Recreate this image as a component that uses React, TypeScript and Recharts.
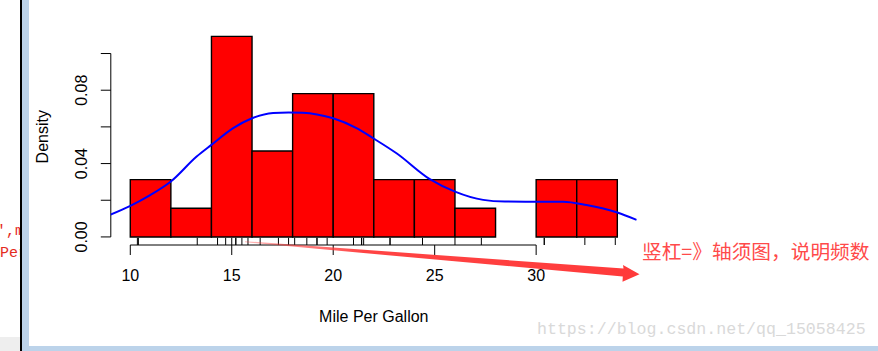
import React from 'react';
import { ComposedChart, XAxis, YAxis, Line, ReferenceArea, ReferenceLine } from 'recharts';

// Histogram bins (Mile Per Gallon) and their densities
const binStarts = [10, 12, 14, 16, 18, 20, 22, 24, 26, 28, 30, 32];
const binEnds = [12, 14, 16, 18, 20, 22, 24, 26, 28, 30, 32, 34];
const binDensity = [0.03125, 0.015625, 0.109375, 0.046875, 0.078125, 0.078125, 0.03125, 0.03125, 0.015625, 0, 0.03125, 0.03125];

// Rug (axis whisker) values
const rugValues = [21.0, 21.0, 22.8, 21.4, 18.7, 18.1, 14.3, 24.4, 22.8, 19.2, 17.8, 16.4, 17.3, 15.2, 10.4, 10.35, 14.7, 32.4, 30.4, 33.9, 21.5, 15.5, 15.2, 13.3, 19.2, 27.3, 26.0, 30.4, 15.8, 19.7, 15.0, 21.4];

// Density curve
const curveX = [9.0, 10.0, 11.0, 12.0, 13.27, 14.0, 15.07, 16.0, 17.04, 17.8, 18.5, 19.2, 20.0, 21.15, 21.97, 23.12, 24.76, 26.0, 27.39, 28.46, 29.5, 30.5, 31.33, 32.48, 34.0, 34.95];
const curveY = [0.012, 0.0169, 0.0229, 0.0302, 0.0438, 0.0502, 0.0593, 0.0647, 0.0676, 0.0679, 0.0677, 0.0668, 0.0647, 0.0593, 0.0538, 0.0456, 0.0315, 0.0247, 0.0202, 0.0193, 0.0192, 0.0192, 0.0192, 0.0174, 0.0133, 0.0093];

const xTicks = [10, 15, 20, 25, 30];
const yTicks = [0, 0.02, 0.04, 0.06, 0.08, 0.1];
const yTickLabels = ['0.00', '', '0.04', '', '0.08', ''];

const xDomain: [number, number] = [9.04, 34.96];
const yDomain: [number, number] = [-0.0044, 0.1137];

const curveData = curveX.map((x, i) => ({ x, y: curveY[i] }));

const FONT = '"Liberation Sans", Arial, sans-serif';

const YTick = (props: any) => {
  const { x, y, index } = props;
  const label = yTickLabels[index] ?? '';
  if (!label) return null;
  return (
    <text
      x={x}
      y={y}
      transform={`rotate(-90 ${x} ${y})`}
      textAnchor="middle"
      fontSize={16}
      fontFamily={FONT}
      fill="#000"
    >
      {label}
    </text>
  );
};

export default function App() {
  return (
    <div style={{ position: 'absolute', left: 0, top: 0, width: 878, height: 351, background: '#fff', overflow: 'hidden' }}>
      {/* window frame decorations */}
      <div style={{ position: 'absolute', left: 0, top: 337, width: 20, height: 14, background: '#eeeeee' }} />
      <div style={{ position: 'absolute', left: 20, top: 0, width: 2, height: 351, background: '#000' }} />
      <div style={{ position: 'absolute', left: 22, top: 0, width: 7, height: 351, background: '#bcd3ea' }} />
      <div style={{ position: 'absolute', left: 29, top: 346, width: 849, height: 5, background: '#bcd3ea' }} />
      <div style={{ position: 'absolute', left: 0, top: 221, width: 20, height: 50, overflow: 'hidden', fontFamily: '"Liberation Mono", monospace', fontSize: 15, color: '#e42b1e', lineHeight: '22px', whiteSpace: 'pre' }}>
        <div style={{ marginLeft: -3 }}>{"',m"}</div>
        <div style={{ marginLeft: 0 }}>{'Per'}</div>
      </div>

      <div style={{ position: 'absolute', left: 0, top: 0 }}>
        <ComposedChart
          width={878}
          height={351}
          data={curveData}
          margin={{ top: 28.4, right: 241.2, bottom: 66, left: 50.8 }}
        >
          <XAxis
            dataKey="x"
            type="number"
            domain={xDomain}
            ticks={xTicks}
            allowDataOverflow
            axisLine={false}
            tickLine={{ stroke: '#000', strokeWidth: 1 }}
            tickSize={10}
            tickMargin={15}
            height={40}
            tick={{ fill: '#000', fontSize: 16, fontFamily: FONT }}
          />
          <YAxis
            type="number"
            domain={yDomain}
            ticks={yTicks}
            allowDataOverflow
            axisLine={false}
            tickLine={{ stroke: '#000', strokeWidth: 1 }}
            tickSize={10}
            tickMargin={14}
            width={60}
            tick={<YTick />}
          />
          {binStarts.map((s, i) =>
            binDensity[i] > 0 ? (
              <ReferenceArea
                key={`bin-${i}`}
                x1={s}
                x2={binEnds[i]}
                y1={0}
                y2={binDensity[i]}
                fill="#ff0000"
                fillOpacity={1}
                stroke="#000"
                strokeWidth={1.4}
                ifOverflow="visible"
              />
            ) : null
          )}
          {rugValues.map((v, i) => (
            <ReferenceLine
              key={`rug-${i}`}
              segment={[{ x: v, y: yDomain[0] }, { x: v, y: -0.0005 }]}
              stroke="#000"
              strokeWidth={1}
              ifOverflow="visible"
            />
          ))}
          <ReferenceLine
            segment={[{ x: xTicks[0], y: yDomain[0] }, { x: xTicks[xTicks.length - 1], y: yDomain[0] }]}
            stroke="#000"
            strokeWidth={1}
            ifOverflow="visible"
          />
          <ReferenceLine
            segment={[{ x: xDomain[0], y: yTicks[0] }, { x: xDomain[0], y: yTicks[yTicks.length - 1] }]}
            stroke="#000"
            strokeWidth={1}
            ifOverflow="visible"
          />
          <Line
            dataKey="y"
            type="monotone"
            stroke="#0000ff"
            strokeWidth={2}
            dot={false}
            isAnimationActive={false}
          />
        </ComposedChart>
      </div>

      {/* axis titles and annotations */}
      <svg width={878} height={351} style={{ position: 'absolute', left: 0, top: 0, pointerEvents: 'none' }}>
        <text x={373.8} y={322} textAnchor="middle" fontSize={16} fontFamily={FONT} fill="#000">Mile Per Gallon</text>
        <text x={48} y={136.7} transform="rotate(-90 48 136.7)" textAnchor="middle" fontSize={16} fontFamily={FONT} fill="#000">Density</text>
        <defs>
          <linearGradient id="arrowGrad" x1="0" y1="0" x2="1" y2="0">
            <stop offset="0" stopColor="#ff3a3a" stopOpacity={0.35} />
            <stop offset="0.3" stopColor="#ff3a3a" stopOpacity={0.95} />
            <stop offset="1" stopColor="#ff3a3a" stopOpacity={1} />
          </linearGradient>
        </defs>
        <polygon
          points="245,241.2 623.5,268.5 623,265 639.5,274.3 622.5,281.7 622.8,276.5 245,242.3"
          fill="url(#arrowGrad)"
        />
        <text x={642} y={259} fontSize={19.7} fontFamily='"Noto Sans CJK SC", sans-serif' fill="#ff4a4a">竖杠=》轴须图，说明频数</text>
        <text x={537} y={334} fontSize={16.6} fontFamily='"Liberation Mono", monospace' fill="#d9d9d9">https://blog.csdn.net/qq_15058425</text>
      </svg>
    </div>
  );
}
